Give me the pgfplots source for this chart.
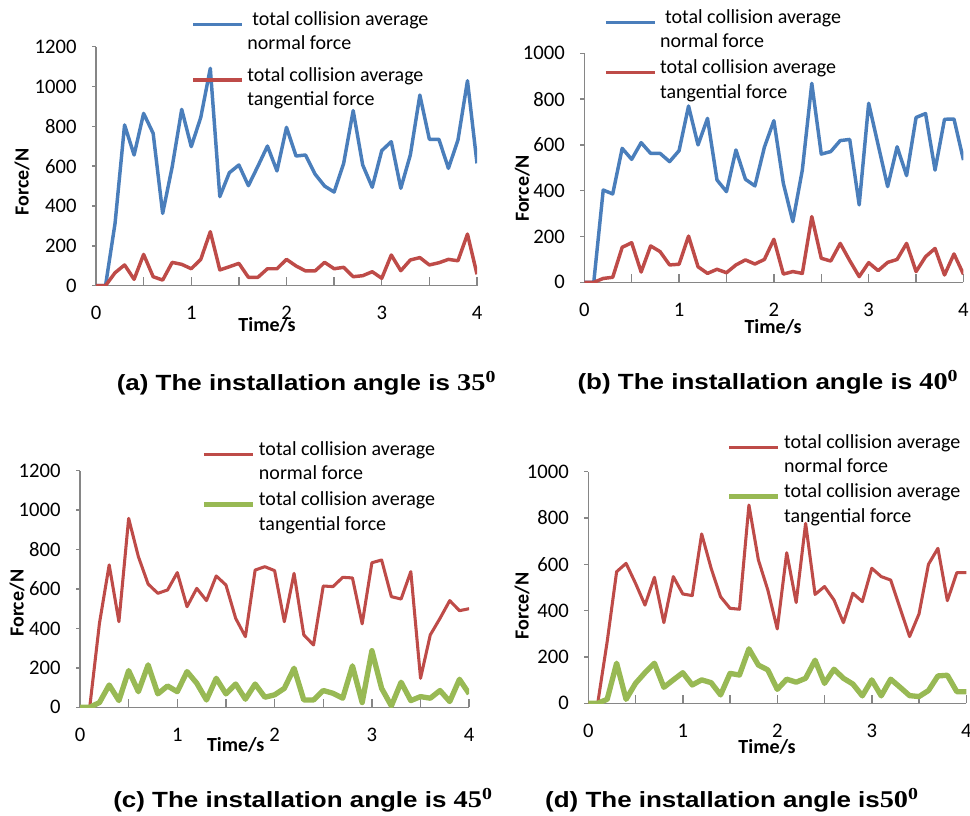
\documentclass[border=0pt]{standalone}
\usepackage{fontspec}
\setmainfont{Carlito}
\newfontfamily\titlesans{Liberation Sans}
\newfontfamily\titleserif{Liberation Serif}
\usepackage{pgfplots}
\pgfplotsset{compat=1.18}
\definecolor{xlblue}{RGB}{74,126,187}
\definecolor{xlred}{RGB}{190,75,72}
\definecolor{xlgreen}{RGB}{152,185,84}
\definecolor{axgray}{RGB}{134,134,134}

\pgfplotsset{
  panel/.style={
    scale only axis, anchor=south west,
    axis lines=left,
    axis line style={-, draw=axgray, line width=1.1pt},
    xmin=0, xmax=4, ymin=0,
    xtick={0,0.5,1,1.5,2,2.5,3,3.5,4},
    xticklabels={0,,1,,2,,3,,4},
    xtick align=inside, ytick align=outside,
    major tick length=6.5pt,
    tick style={draw=axgray, line width=1.1pt},
    ytick style={/pgfplots/major tick length=3pt},
    /pgf/number format/assume math mode=true,
    /pgf/number format/1000 sep={},
    tick label style={font=\fontsize{15.5}{18}\selectfont},
    xticklabel style={yshift=-12pt},
    yticklabel style={xshift=-4.5pt},
    label style={font=\fontsize{15}{18}\selectfont\bfseries, anchor=center},
    legend style={draw=none, fill=none, inner sep=0pt, column sep=2.5pt, row sep=7.5pt,
      font=\fontsize{15}{18.4}\selectfont, nodes={inner sep=0pt, align=left}},
    legend cell align=left,
    legend image code/.code={\draw[##1, line cap=butt] (0pt,5.5pt) -- (36.75pt,5.5pt);},
  },
}
\newcommand{\paneltitle}[2]{\scalebox{1.18}[1]{\titlesans\fontsize{16.5}{20}\selectfont\bfseries #1{\titleserif\fontsize{18}{20}\selectfont #2\textsuperscript{0}}}}

\begin{document}
\begin{tikzpicture}
\useasboundingbox (0pt,0pt) rectangle (727.5pt,611.25pt);

% (a)
\begin{axis}[panel, at={(72pt,397pt)}, width=285.75pt, height=179.25pt,
  ymax=1200, ytick={0,200,...,1200},
  xlabel={Time/s}, xlabel style={at={(axis description cs:0.449,-0.163)}},
  ylabel={Force/N}, ylabel style={at={(axis description cs:-0.194,0.434)}},
  legend style={at={(axis description cs:0.25,1.148)}, anchor=north west, row sep=11.5pt}]
\addplot[xlblue, line width=2.6pt, line join=round] coordinates {
(0,0) (0.1,0) (0.2,313) (0.3,807) (0.4,656) (0.5,865) (0.6,765) (0.7,363) (0.8,597) (0.9,885)
(1.0,698) (1.1,845) (1.2,1091) (1.3,447) (1.4,567) (1.5,606) (1.6,502) (1.7,600) (1.8,701) (1.9,576)
(2.0,795) (2.1,651) (2.2,656) (2.3,560) (2.4,500) (2.5,470) (2.6,614) (2.7,879) (2.8,606) (2.9,494)
(3.0,678) (3.1,723) (3.2,489) (3.3,656) (3.4,957) (3.5,735) (3.6,735) (3.7,589) (3.8,731) (3.9,1029) (4.0,614)};
\addlegendentry{\hspace{0.25em}total collision average\\normal force}
\addplot[xlred, line width=2.6pt, line join=round] coordinates {
(0,0) (0.1,0) (0.2,65) (0.3,104) (0.4,32) (0.5,157) (0.6,45) (0.7,28) (0.8,117) (0.9,107)
(1.0,85) (1.1,132) (1.2,271) (1.3,79) (1.4,95) (1.5,112) (1.6,42) (1.7,42) (1.8,85) (1.9,85)
(2.0,132) (2.1,99) (2.2,74) (2.3,74) (2.4,117) (2.5,85) (2.6,92) (2.7,45) (2.8,50) (2.9,70)
(3.0,37) (3.1,154) (3.2,75) (3.3,129) (3.4,141) (3.5,104) (3.6,115) (3.7,132) (3.8,125) (3.9,259) (4.0,57)};
\addlegendentry{total collision average\\tangential force}
\end{axis}

% (b)
\begin{axis}[panel, at={(438.2pt,399.5pt)}, width=284.4pt, height=171.75pt,
  ymax=1000, ytick={0,200,...,1000},
  xlabel={Time/s}, xlabel style={at={(axis description cs:0.498,-0.195)}},
  ylabel={Force/N}, ylabel style={at={(axis description cs:-0.1635,0.41)}},
  legend style={at={(axis description cs:0.052,1.193)}, anchor=north west}]
\addplot[xlblue, line width=2.6pt, line join=round] coordinates {
(0,0) (0.1,0) (0.2,403) (0.3,386) (0.4,585) (0.5,537) (0.6,610) (0.7,563) (0.8,563) (0.9,527)
(1.0,575) (1.1,770) (1.2,600) (1.3,716) (1.4,447) (1.5,396) (1.6,578) (1.7,450) (1.8,421) (1.9,590)
(2.0,706) (2.1,432) (2.2,265) (2.3,490) (2.4,869) (2.5,560) (2.6,571) (2.7,619) (2.8,624) (2.9,338)
(3.0,782) (3.1,600) (3.2,418) (3.3,592) (3.4,466) (3.5,720) (3.6,737) (3.7,490) (3.8,712) (3.9,713) (4.0,534)};
\addlegendentry{\hspace{0.25em}total collision average\\normal force}
\addplot[xlred, line width=2.6pt, line join=round] coordinates {
(0,0) (0.1,0) (0.2,17) (0.3,22) (0.4,153) (0.5,173) (0.6,45) (0.7,159) (0.8,134) (0.9,76)
(1.0,79) (1.1,202) (1.2,68) (1.3,39) (1.4,57) (1.5,42) (1.6,76) (1.7,98) (1.8,80) (1.9,100)
(2.0,188) (2.1,36) (2.2,47) (2.3,39) (2.4,287) (2.5,105) (2.6,93) (2.7,170) (2.8,95) (2.9,25)
(3.0,86) (3.1,51) (3.2,87) (3.3,100) (3.4,170) (3.5,47) (3.6,112) (3.7,148) (3.8,32) (3.9,124) (4.0,35)};
\addlegendentry{total collision average\\tangential force}
\end{axis}

% (c)
\begin{axis}[panel, at={(60pt,80.8pt)}, width=291.9pt, height=177.45pt,
  ymax=1200, ytick={0,200,...,1200},
  xlabel={Time/s}, xlabel style={at={(axis description cs:0.40,-0.159)}},
  ylabel={Force/N}, ylabel style={at={(axis description cs:-0.162,0.44)}},
  legend style={at={(axis description cs:0.311,1.125)}, anchor=north west}]
\addplot[xlred, line width=2.3pt, line join=round] coordinates {
(0,0) (0.1,0) (0.2,426) (0.3,722) (0.4,434) (0.5,958) (0.6,764) (0.7,625) (0.8,578) (0.9,595)
(1.0,683) (1.1,510) (1.2,603) (1.3,541) (1.4,666) (1.5,620) (1.6,451) (1.7,358) (1.8,696) (1.9,713)
(2.0,693) (2.1,434) (2.2,679) (2.3,367) (2.4,316) (2.5,615) (2.6,612) (2.7,659) (2.8,656) (2.9,423)
(3.0,733) (3.1,747) (3.2,561) (3.3,549) (3.4,688) (3.5,147) (3.6,367) (3.7,451) (3.8,541) (3.9,490) (4.0,500)};
\addlegendentry{total collision average\\normal force}
\addplot[xlgreen, line width=4pt, line join=round] coordinates {
(0,0) (0.1,0) (0.2,24) (0.3,113) (0.4,34) (0.5,186) (0.6,79) (0.7,215) (0.8,68) (0.9,108)
(1.0,79) (1.1,181) (1.2,122) (1.3,37) (1.4,147) (1.5,68) (1.6,118) (1.7,41) (1.8,118) (1.9,51)
(2.0,63) (2.1,96) (2.2,198) (2.3,37) (2.4,37) (2.5,85) (2.6,71) (2.7,46) (2.8,210) (2.9,24)
(3.0,287) (3.1,96) (3.2,7) (3.3,127) (3.4,34) (3.5,54) (3.6,46) (3.7,85) (3.8,29) (3.9,142) (4.0,68)};
\addlegendentry{total collision average\\tangential force}
\end{axis}

% (d)
\begin{axis}[panel, at={(441.2pt,83.8pt)}, width=283.5pt, height=173.7pt,
  ymax=1000, ytick={0,200,...,1000},
  xlabel={Time/s}, xlabel style={at={(axis description cs:0.473,-0.189)}},
  ylabel={Force/N}, ylabel style={at={(axis description cs:-0.175,0.42)}},
  legend style={at={(axis description cs:0.365,1.163)}, anchor=north west, row sep=7pt}]
\addplot[xlred, line width=2.3pt, line join=round] coordinates {
(0,0) (0.1,0) (0.2,266) (0.3,568) (0.4,604) (0.5,518) (0.6,424) (0.7,544) (0.8,348) (0.9,547)
(1.0,472) (1.1,465) (1.2,731) (1.3,583) (1.4,460) (1.5,410) (1.6,406) (1.7,856) (1.8,619) (1.9,489)
(2.0,321) (2.1,650) (2.2,435) (2.3,777) (2.4,470) (2.5,504) (2.6,446) (2.7,348) (2.8,475) (2.9,439)
(3.0,583) (3.1,547) (3.2,532) (3.3,410) (3.4,288) (3.5,386) (3.6,600) (3.7,669) (3.8,443) (3.9,564) (4.0,564)};
\addlegendentry{total collision average\\normal force}
\addplot[xlgreen, line width=4pt, line join=round] coordinates {
(0,0) (0.1,0) (0.2,17) (0.3,173) (0.4,17) (0.5,86) (0.6,132) (0.7,173) (0.8,69) (0.9,101)
(1.0,132) (1.1,79) (1.2,101) (1.3,89) (1.4,36) (1.5,129) (1.6,122) (1.7,235) (1.8,165) (1.9,144)
(2.0,60) (2.1,104) (2.2,91) (2.3,108) (2.4,186) (2.5,86) (2.6,147) (2.7,108) (2.8,83) (2.9,32)
(3.0,101) (3.1,32) (3.2,104) (3.3,69) (3.4,33) (3.5,29) (3.6,55) (3.7,118) (3.8,121) (3.9,50) (4.0,50)};
\addlegendentry{total collision average\\tangential force}
\end{axis}

\node at (229.9pt,324pt) {\paneltitle{(a) The installation angle is }{35}};
\node at (576pt,324.75pt) {\paneltitle{(b) The installation angle is }{40}};
\node at (227.25pt,11.25pt) {\paneltitle{(c) The installation angle is }{45}};
\node at (549pt,11.25pt) {\paneltitle{(d) The installation angle is}{50}};
\end{tikzpicture}
\end{document}
